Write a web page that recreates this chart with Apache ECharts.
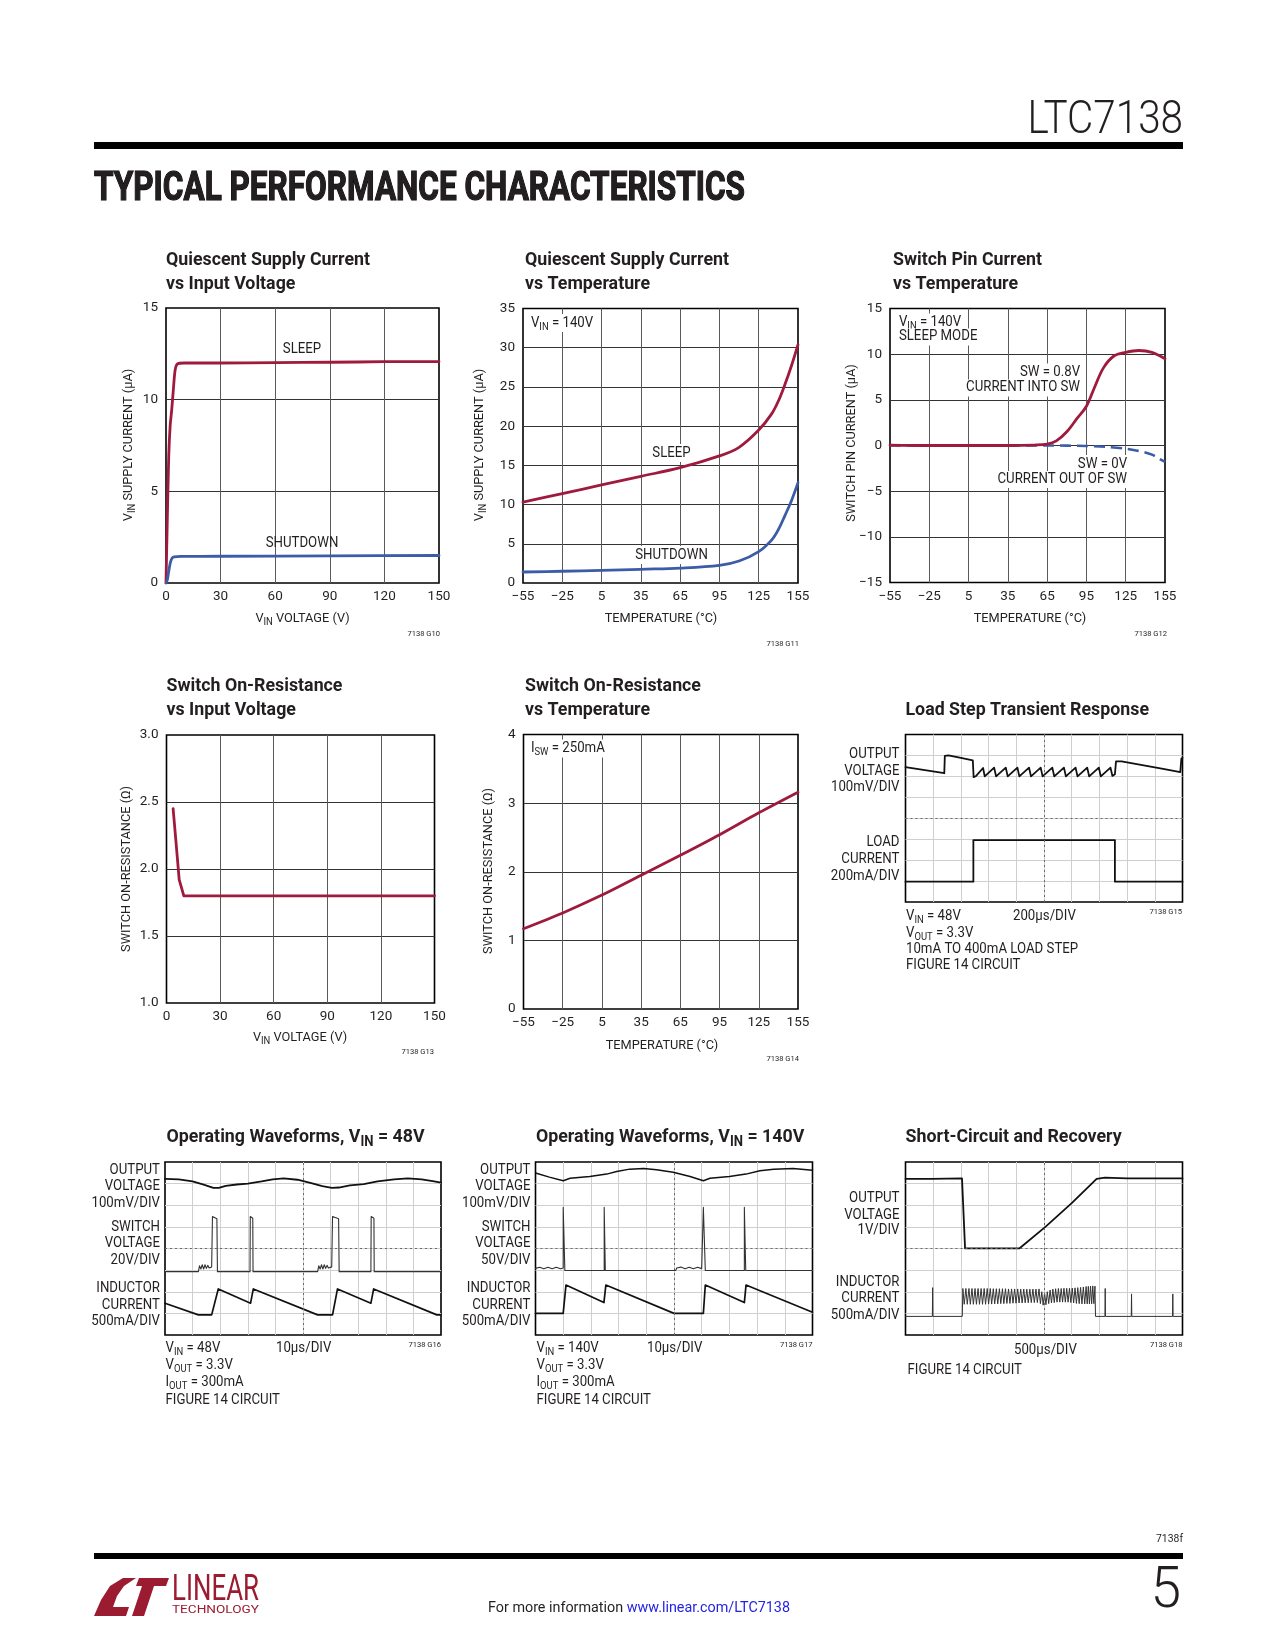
<!DOCTYPE html>
<html><head><meta charset="utf-8">
<script src="https://cdn.jsdelivr.net/npm/echarts@6/dist/echarts.min.js"></script>
<style>html,body{margin:0;padding:0;background:#fff}#c{width:1275px;height:1650px}</style>
</head><body><div id="c"></div>
<script>
const INK = '#231f20';
const RED = '#9e1b3d';
const BLUE = '#3c5ca8';
const FONT = "Roboto, 'Liberation Sans', sans-serif";

// ---------------- data ----------------
const g10XTicks = [0, 30, 60, 90, 120, 150];
const g10YTicks = [0, 5, 10, 15];
const g10Sleep = [[0,0],[0.7,3.4],[1.5,6.9],[2.3,8.6],[3.1,9.4],[4,10.5],[5,11.6],[6.3,11.95],[10,12.0],[30,12.0],[60,12.02],[90,12.04],[120,12.07],[150,12.08]];
const g10Shutdown = [[0,0],[0.8,0.2],[1.6,0.7],[2.5,1.15],[3.5,1.38],[4.5,1.43],[8,1.45],[30,1.46],[90,1.48],[150,1.5]];

const tempTicks = [-55, -25, 5, 35, 65, 95, 125, 155];
const g11YTicks = [0, 5, 10, 15, 20, 25, 30, 35];
const g11Temp = [-55, -25, 5, 35, 65, 95, 110, 125, 135, 140, 145, 150, 155];
const g11Sleep = [10.3, 11.4, 12.5, 13.6, 14.7, 16.2, 17.3, 19.5, 21.6, 23.2, 25.3, 27.7, 30.4];
const g11Shutdown = [1.4, 1.5, 1.6, 1.75, 1.9, 2.25, 2.8, 4.0, 5.5, 6.8, 8.6, 10.5, 12.8];

const g12YTicks = [-15, -10, -5, 0, 5, 10, 15];
const g12Into = [[-55,0.05],[-25,0],[5,0],[35,0],[55,0.05],[65,0.15],[72,0.5],[80,1.5],[88,3.0],[95,4.3],[101,6.3],[108,8.5],[116,9.8],[125,10.2],[135,10.4],[145,10.2],[155,9.5]];
const g12OutOf = [[-55,0],[35,0],[65,0],[95,-0.05],[110,-0.15],[125,-0.35],[135,-0.6],[145,-1.0],[150,-1.4],[155,-1.8]];

const g13XTicks = [0, 30, 60, 90, 120, 150];
const g13YTicks = [1.0, 1.5, 2.0, 2.5, 3.0];
const g13Ron = [[3.7,2.45],[5.2,2.22],[7.1,1.92],[9.7,1.80],[150,1.80]];

const g14YTicks = [0, 1, 2, 3, 4];
const g14Temp = [-55, -25, 5, 35, 65, 95, 125, 155];
const g14Ron = [1.17, 1.40, 1.66, 1.95, 2.24, 2.54, 2.86, 3.16];

// scope traces, in divisions (x 0..10, y 0..8 from bottom)
const scopeX = [0,1,2,3,4,5,6,7,8,9,10];
const scopeY = [0,1,2,3,4,5,6,7,8];
const g15Vout = [[0,6.44],[0.7,6.3],[1.40,6.15],[1.42,6.98],[1.55,7.0],[2.0,6.88],[2.43,6.76],[2.46,5.96],[2.55,6.02],[2.8,6.4],[2.86,6.0],[3.2,6.42],[3.27,6.0],[3.62,6.42],[3.69,6.0],[4.04,6.42],[4.11,6.0],[4.46,6.42],[4.53,6.0],[4.88,6.42],[4.95,6.0],[5.3,6.42],[5.37,6.0],[5.72,6.42],[5.79,6.0],[6.14,6.42],[6.21,6.0],[6.56,6.42],[6.63,6.0],[6.98,6.42],[7.05,6.0],[7.40,6.42],[7.47,6.02],[7.56,6.1],[7.6,6.72],[7.8,6.72],[8.5,6.55],[9.3,6.36],[9.92,6.2],[9.96,6.85],[10,6.88]];
const g15Load = [[0,0.97],[2.45,0.97],[2.45,2.96],[7.56,2.96],[7.56,0.97],[10,0.97]];

const g16Vout = [[0,7.22],[0.5,7.2],[1.0,7.1],[1.4,6.95],[1.75,6.8],[1.95,6.8],[2.2,6.9],[2.6,6.96],[3.0,7.0],[3.5,7.1],[3.9,7.2],[4.3,7.24],[4.8,7.18],[5.3,7.02],[5.7,6.88],[6.05,6.8],[6.3,6.82],[6.7,6.92],[7.2,6.98],[7.7,7.1],[8.3,7.2],[8.8,7.24],[9.3,7.2],[9.7,7.12],[10,7.05]];
const g16Vsw = [[0,2.93],[1.21,2.93],[1.25,3.2],[1.3,3.05],[1.35,3.25],[1.4,3.05],[1.45,3.25],[1.5,3.08],[1.55,3.22],[1.6,3.1],[1.69,3.15],[1.72,5.48],[1.88,5.38],[1.9,2.93],[3.08,2.93],[3.09,5.48],[3.18,5.4],[3.19,2.93],[5.53,2.93],[5.57,3.2],[5.62,3.05],[5.67,3.25],[5.72,3.05],[5.77,3.25],[5.82,3.08],[5.87,3.22],[5.92,3.1],[6.04,3.15],[6.07,5.48],[6.29,5.38],[6.31,2.93],[7.46,2.93],[7.47,5.48],[7.57,5.4],[7.58,2.93],[10,2.93]];
const g16IL = [[0,1.47],[1.21,0.93],[1.69,0.93],[1.93,2.13],[3.1,1.47],[3.2,2.13],[5.53,0.93],[6.07,0.93],[6.25,2.13],[7.46,1.47],[7.56,2.13],[9.85,0.93],[10,0.93]];

const g17Vout = [[0,7.49],[0.5,7.3],[1.0,7.13],[1.25,7.25],[1.96,7.33],[2.57,7.44],[2.93,7.56],[3.4,7.67],[3.9,7.7],[4.37,7.64],[4.97,7.53],[5.58,7.33],[6.06,7.13],[6.3,7.25],[7.0,7.33],[7.6,7.44],[8.1,7.6],[8.6,7.67],[9.3,7.7],[10,7.62]];
const g17Vsw = [[0,3.08],[0.15,3.13],[0.3,3.06],[0.45,3.13],[0.6,3.06],[0.75,3.13],[0.9,3.06],[1.0,3.1],[1.0,5.9],[1.04,5.85],[1.06,2.98],[2.48,2.98],[2.48,5.9],[2.51,5.85],[2.52,2.98],[5.06,2.98],[5.1,3.1],[5.25,3.14],[5.4,3.06],[5.55,3.13],[5.7,3.06],[5.85,3.13],[6.0,3.07],[6.06,3.1],[6.06,5.9],[6.1,5.85],[6.13,2.98],[7.54,2.98],[7.54,5.9],[7.58,5.85],[7.59,2.98],[10,2.98]];
const g17IL = [[0,1.0],[1.0,1.0],[1.1,2.31],[2.47,1.5],[2.54,2.31],[5.0,1.0],[6.06,1.0],[6.13,2.31],[7.54,1.5],[7.6,2.31],[10,1.05]];

const g18Vout = [[0,7.22],[0.95,7.22],[1.0,7.26],[2.04,7.24],[2.07,7.2],[2.15,4.01],[4.12,4.01],[5.05,5.0],[6.0,6.1],[6.9,7.22],[7.2,7.28],[8.0,7.24],[10,7.24]];
const g18IL = [[0,0.86],[0.97,0.86],[0.98,2.19],[0.99,0.86],[2.05,0.86],[2.07,2.15],[2.12,1.42],[2.18,2.15],[2.23,1.42],[2.29,2.15],[2.34,1.42],[2.40,2.15],[2.45,1.42],[2.51,2.15],[2.56,1.42],[2.62,2.15],[2.67,1.42],[2.73,2.15],[2.78,1.42],[2.84,2.15],[2.89,1.42],[2.95,2.15],[3.00,1.43],[3.06,2.15],[3.11,1.43],[3.17,2.14],[3.22,1.44],[3.28,2.14],[3.33,1.44],[3.39,2.14],[3.44,1.45],[3.50,2.14],[3.55,1.45],[3.61,2.14],[3.66,1.46],[3.72,2.13],[3.77,1.46],[3.83,2.13],[3.88,1.47],[3.94,2.13],[3.99,1.47],[4.05,2.13],[4.10,1.48],[4.16,2.12],[4.21,1.48],[4.27,2.12],[4.32,1.49],[4.38,2.12],[4.43,1.49],[4.49,2.12],[4.54,1.50],[4.60,2.12],[4.65,1.50],[4.71,2.12],[4.76,1.50],[4.82,2.13],[4.87,1.45],[4.92,2.0],[4.97,1.38],[5.02,1.95],[5.07,1.40],[5.12,2.0],[5.17,1.45],[5.22,2.08],[5.27,1.48],[5.32,2.12],[5.37,1.50],[5.42,2.14],[5.47,1.52],[5.52,2.15],[5.57,1.52],[5.62,2.15],[5.67,1.52],[5.72,2.16],[5.77,1.52],[5.82,2.16],[5.87,1.52],[5.92,2.16],[5.97,1.50],[6.02,2.17],[6.07,1.48],[6.12,2.18],[6.17,1.46],[6.22,2.19],[6.27,1.45],[6.32,2.2],[6.37,1.44],[6.42,2.22],[6.47,1.44],[6.52,2.24],[6.56,1.44],[6.60,2.25],[6.64,1.44],[6.68,2.26],[6.72,1.44],[6.76,2.27],[6.80,1.45],[6.84,2.26],[6.86,0.86],[7.20,0.86],[7.21,2.15],[7.22,0.86],[8.15,0.86],[8.16,1.9],[8.17,0.86],[9.64,0.86],[9.65,1.9],[9.66,0.86],[10,0.86]];

// ---------------- text width helpers (condensed look) ----------------
const mctx = document.createElement('canvas').getContext('2d');
function tw(str, font) { mctx.font = font; return mctx.measureText(str).width; }
const RR = 129.6 / tw('CURRENT OUT OF SW', '14px ' + FONT);
const RB = 204 / tw('Quiescent Supply Current', 'bold 19px ' + FONT);

// ---------------- layout ----------------
const grids = [
  {left:166, top:308, width:273, height:275},
  {left:523, top:308.5, width:275, height:274.5},
  {left:890, top:308.5, width:275, height:274},
  {left:166.5, top:735, width:268, height:268},
  {left:523.5, top:734.5, width:274.5, height:274.5},
  {left:905.5, top:734.5, width:277, height:167.5},
  {left:165, top:1162, width:276, height:173},
  {left:535.5, top:1162, width:277, height:173},
  {left:905.5, top:1162, width:277, height:173}
].map(g => Object.assign({show:true, borderColor:'#000', borderWidth:1.6, backgroundColor:'rgba(0,0,0,0)', containLabel:false}, g));

const fmtMinus = v => String(v).replace('-', '\u2212');

function plotAxis(gi, dim, ticks, opts) {
  const base = {
    type:'value', gridIndex:gi, min:ticks[0], max:ticks[ticks.length-1],
    axisLine:{show:false}, axisTick:{show:false},
    axisLabel:{show:true, fontSize:13.5, color:INK, fontFamily:FONT, margin: dim==='x'?7:8, formatter:fmtMinus, showMinLabel:true, showMaxLabel:true},
    splitLine:{show:true, showMinLine:false, showMaxLine:false, lineStyle:{color: dim==='x' ? '#5a5a5a' : '#333', width:1}}
  };
  if (opts && opts.custom) {
    base.axisTick.customValues = ticks;
    base.axisLabel.customValues = ticks;
  } else {
    base.interval = ticks[1]-ticks[0];
  }
  if (opts && opts.fmt) base.axisLabel.formatter = opts.fmt;
  return base;
}
function scopeAxis(gi, ticks) {
  return {
    type:'value', gridIndex:gi, min:ticks[0], max:ticks[ticks.length-1], interval:1,
    axisLine:{show:false}, axisTick:{show:false}, axisLabel:{show:false},
    splitLine:{show:true, showMinLine:false, showMaxLine:false, lineStyle:{color:'#cfcfcf', width:1}}
  };
}

const xAxes = [
  plotAxis(0,'x',g10XTicks),
  plotAxis(1,'x',tempTicks,{custom:true}),
  plotAxis(2,'x',tempTicks,{custom:true}),
  plotAxis(3,'x',g13XTicks),
  plotAxis(4,'x',tempTicks,{custom:true}),
  scopeAxis(5,scopeX), scopeAxis(6,scopeX), scopeAxis(7,scopeX), scopeAxis(8,scopeX)
];
const yAxes = [
  plotAxis(0,'y',g10YTicks),
  plotAxis(1,'y',g11YTicks),
  plotAxis(2,'y',g12YTicks),
  plotAxis(3,'y',g13YTicks,{fmt: v => v.toFixed(1)}),
  plotAxis(4,'y',g14YTicks),
  scopeAxis(5,scopeY), scopeAxis(6,scopeY), scopeAxis(7,scopeY), scopeAxis(8,scopeY)
];

function line(gi, data, color, width, extra) {
  return Object.assign({type:'line', xAxisIndex:gi, yAxisIndex:gi, data, symbol:'none', silent:true,
    lineStyle:{color, width, cap:'round', join:'round'}, z:3}, extra || {});
}
const centerMark = {silent:true, symbol:'none', label:{show:false},
  lineStyle:{type:[2,3], color:'#6a6a6a', width:1}, data:[{xAxis:5},{yAxis:4}]};

const series = [
  line(0, g10Sleep, RED, 2.8, {smooth:0.25}),
  line(0, g10Shutdown, BLUE, 2.8, {smooth:0.25}),
  line(1, g11Temp.map((t,i)=>[t,g11Sleep[i]]), RED, 2.8, {smooth:0.35}),
  line(1, g11Temp.map((t,i)=>[t,g11Shutdown[i]]), BLUE, 2.8, {smooth:0.35}),
  Object.assign(line(2, g12OutOf, BLUE, 2.6, {smooth:0.3}), {lineStyle:{color:BLUE, width:2.6, type:[11,6]}}),
  line(2, g12Into, RED, 2.8, {smooth:0.35}),
  line(3, g13Ron, RED, 2.8),
  line(4, g14Temp.map((t,i)=>[t,g14Ron[i]]), RED, 2.8, {smooth:0.3}),
  line(5, g15Vout, '#111', 1.8, {markLine:centerMark}),
  line(5, g15Load, '#111', 1.8),
  line(6, g16Vout, '#111', 1.8, {markLine:centerMark}),
  line(6, g16Vsw, '#333', 1.1),
  line(6, g16IL, '#111', 1.7),
  line(7, g17Vout, '#111', 1.5, {markLine:centerMark}),
  line(7, g17Vsw, '#333', 1.1),
  line(7, g17IL, '#111', 1.7),
  line(8, g18Vout, '#111', 1.8, {markLine:centerMark}),
  line(8, g18IL, '#333', 1.0)
];

// ---------------- texts ----------------
const G = [];
function T(x, y, text, o) {
  o = o || {};
  const fs = o.fs || 14;
  const ff = o.ff || FONT;
  const fw = o.fw || 'normal';
  const style = {
    text, fontFamily:ff, fontSize:fs, fontWeight:fw, fill:o.fill || INK,
    align:o.align || 'left', verticalAlign:'middle', lineHeight:Math.round(fs*1.15),
    rich:{ s:{fontSize:Math.round(fs*0.74), lineHeight:Math.round(fs*0.85), padding:[Math.round(fs*0.55),0,0,0], fontFamily:ff, fontWeight:fw},
           u:{fill:'#2323e6', fontSize:fs, fontFamily:ff} }
  };
  if (o.bg) { style.backgroundColor = o.bg; style.padding = o.pad || [1,2,1,2]; }
  if (o.stroke) { style.stroke = o.stroke; style.lineWidth = o.lw || 0.6; }
  const sx = o.sx || (fw === 'bold' ? RB : RR);
  G.push({type:'text', x, y, z:50, silent:true, rotation:o.rot || 0, scaleX:sx, style});
}
const TB = {fs:19, fw:'bold'};
const BG = {bg:'#fff'};
const rot = Math.PI/2;

// header / footer
const HEAD = 'TYPICAL PERFORMANCE CHARACTERISTICS';
T(1183, 121, 'LTC7138', {fs:47, fw:300, align:'right', sx:0.86});
T(94, 190, HEAD, {fs:40, fw:'bold', sx: 651 / tw(HEAD, 'bold 40px ' + FONT), stroke:'#000', lw:1.2});
T(1183, 1539, '7138f', {fs:11, align:'right'});
T(1181, 1592, '5', {fs:58, fw:300, align:'right', sx:0.95});
const FOOT = 'For more information www.linear.com/LTC7138';
T(488, 1608, 'For more information {u|www.linear.com/LTC7138}', {fs:15.5, sx: 302 / tw(FOOT, '15.5px ' + FONT)});
T(172, 1591, 'LINEAR', {fs:36, fill:'#9b1b30', sx: 87 / tw('LINEAR', '36px ' + FONT)});
T(172, 1610, 'TECHNOLOGY', {fs:10, fill:'#9b1b30', sx: 87 / tw('TECHNOLOGY', '10px ' + FONT)});

// chart 1
T(166, 260, 'Quiescent Supply Current', TB); T(166, 284, 'vs Input Voltage', TB);
T(302, 349, 'SLEEP', {align:'center'});
T(302, 543, 'SHUTDOWN', {align:'center'});
T(129, 445, 'V{s|IN} SUPPLY CURRENT (\u00b5A)', {fs:13.5, align:'center', rot});
T(302.5, 619, 'V{s|IN} VOLTAGE (V)', {fs:13.5, align:'center'});
T(440, 634, '7138 G10', {fs:8, align:'right'});

// chart 2
T(525, 260, 'Quiescent Supply Current', TB); T(525, 284, 'vs Temperature', TB);
T(529, 323, 'V{s|IN} = 140V', Object.assign({}, BG));
T(671.5, 453, 'SLEEP', {align:'center', bg:'#fff'});
T(671.5, 555, 'SHUTDOWN', {align:'center', bg:'#fff'});
T(480, 445, 'V{s|IN} SUPPLY CURRENT (\u00b5A)', {fs:13.5, align:'center', rot});
T(661, 619, 'TEMPERATURE (\u00b0C)', {fs:13.5, align:'center'});
T(799, 644, '7138 G11', {fs:8, align:'right'});

// chart 3
T(893, 260, 'Switch Pin Current', TB); T(893, 284, 'vs Temperature', TB);
T(897, 322, 'V{s|IN} = 140V', {bg:'#fff', pad:[1,3,0,2]});
T(897, 337, 'SLEEP MODE', {bg:'#fff', pad:[0,3,1,2]});
T(1082, 372, 'SW = 0.8V', {align:'right', bg:'#fff', pad:[1,2,0,3]});
T(1082, 388, 'CURRENT INTO SW', {align:'right', bg:'#fff', pad:[0,2,1,3]});
T(1129, 463.5, 'SW = 0V', {align:'right', bg:'#fff', pad:[1,2,0,3]});
T(1129, 479.5, 'CURRENT OUT OF SW', {align:'right', bg:'#fff', pad:[0,2,1,3]});
T(852, 443, 'SWITCH PIN CURRENT (\u00b5A)', {fs:13.5, align:'center', rot});
T(1030, 619, 'TEMPERATURE (\u00b0C)', {fs:13.5, align:'center'});
T(1167, 633.5, '7138 G12', {fs:8, align:'right'});

// chart 4
T(166.5, 686.5, 'Switch On-Resistance', TB); T(166.5, 710, 'vs Input Voltage', TB);
T(127, 869, 'SWITCH ON-RESISTANCE (\u03a9)', {fs:13.5, align:'center', rot});
T(300, 1038, 'V{s|IN} VOLTAGE (V)', {fs:13.5, align:'center'});
T(434, 1052, '7138 G13', {fs:8, align:'right'});

// chart 5
T(525, 686.5, 'Switch On-Resistance', TB); T(525, 710, 'vs Temperature', TB);
T(529, 748.5, 'I{s|SW} = 250mA', {bg:'#fff'});
T(488.5, 871, 'SWITCH ON-RESISTANCE (\u03a9)', {fs:13.5, align:'center', rot});
T(662, 1045.5, 'TEMPERATURE (\u00b0C)', {fs:13.5, align:'center'});
T(799, 1059, '7138 G14', {fs:8, align:'right'});

// chart 6
T(905.5, 710, 'Load Step Transient Response', TB);
[['OUTPUT',754.3],['VOLTAGE',771],['100mV/DIV',787.7],['LOAD',842.3],['CURRENT',859.3],['200mA/DIV',876]].forEach(a => T(899.5, a[1], a[0], {align:'right'}));
T(906, 916, 'V{s|IN} = 48V'); T(1013, 916, '200\u00b5s/DIV');
T(906, 933, 'V{s|OUT} = 3.3V'); T(906, 949, '10mA TO 400mA LOAD STEP'); T(906, 965.5, 'FIGURE 14 CIRCUIT');
T(1182, 912, '7138 G15', {fs:8, align:'right'});

// chart 7
T(166.5, 1137, 'Operating Waveforms, V{s|IN} = 48V', TB);
[['OUTPUT',1170],['VOLTAGE',1186.7],['100mV/DIV',1203.3],['SWITCH',1227.3],['VOLTAGE',1243.3],['20V/DIV',1260],['INDUCTOR',1288.3],['CURRENT',1305],['500mA/DIV',1321.7]].forEach(a => T(160, a[1], a[0], {align:'right'}));
T(165.5, 1348, 'V{s|IN} = 48V'); T(276, 1348, '10\u00b5s/DIV');
T(165.5, 1365, 'V{s|OUT} = 3.3V'); T(165.5, 1382.5, 'I{s|OUT} = 300mA'); T(165.5, 1400, 'FIGURE 14 CIRCUIT');
T(441, 1345, '7138 G16', {fs:8, align:'right'});

// chart 8
T(536, 1137, 'Operating Waveforms, V{s|IN} = 140V', TB);
[['OUTPUT',1170],['VOLTAGE',1186.7],['100mV/DIV',1203.3],['SWITCH',1227.3],['VOLTAGE',1243.3],['50V/DIV',1260],['INDUCTOR',1288.3],['CURRENT',1305],['500mA/DIV',1321.7]].forEach(a => T(530.5, a[1], a[0], {align:'right'}));
T(536.5, 1348, 'V{s|IN} = 140V'); T(647, 1348, '10\u00b5s/DIV');
T(536.5, 1365, 'V{s|OUT} = 3.3V'); T(536.5, 1382.5, 'I{s|OUT} = 300mA'); T(536.5, 1400, 'FIGURE 14 CIRCUIT');
T(812.5, 1345, '7138 G17', {fs:8, align:'right'});

// chart 9
T(905.5, 1137.5, 'Short-Circuit and Recovery', TB);
[['OUTPUT',1198.3],['VOLTAGE',1215],['1V/DIV',1230.7],['INDUCTOR',1282.3],['CURRENT',1298.3],['500mA/DIV',1315]].forEach(a => T(899.5, a[1], a[0], {align:'right'}));
T(1014, 1350, '500\u00b5s/DIV'); T(907.5, 1370, 'FIGURE 14 CIRCUIT');
T(1182.5, 1345, '7138 G18', {fs:8, align:'right'});

// bars and logo
G.push({type:'rect', silent:true, z:40, shape:{x:94, y:142, width:1089, height:7}, style:{fill:'#000'}});
G.push({type:'rect', silent:true, z:40, shape:{x:94, y:1553, width:1089, height:6}, style:{fill:'#000'}});
G.push({type:'polygon', silent:true, z:40, shape:{points:[[94,1616],[126,1616],[129,1607],[113,1607],[117,1596],[124,1586],[136,1578],[123,1578],[110,1586],[101,1600]]}, style:{fill:'#9b1b30'}});
G.push({type:'polygon', silent:true, z:40, shape:{points:[[139,1578],[169,1578],[166,1586],[154,1586],[144,1616],[132,1616],[142,1586],[136,1586]]}, style:{fill:'#9b1b30'}});

const chart = echarts.init(document.getElementById('c'), null, {renderer:'canvas', width:1275, height:1650});
chart.setOption({
  animation:false,
  backgroundColor:'#fff',
  textStyle:{fontFamily:FONT},
  grid:grids, xAxis:xAxes, yAxis:yAxes, series, graphic:{elements:G}
});
</script></body></html>
